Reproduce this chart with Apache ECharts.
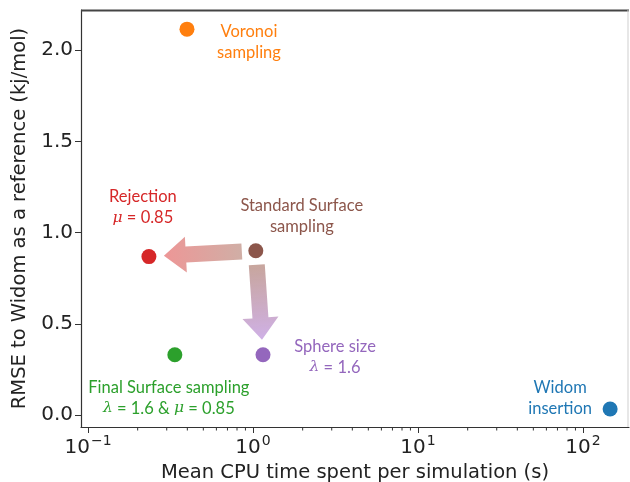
<!DOCTYPE html>
<html><head><meta charset="utf-8">
<script src="https://cdn.jsdelivr.net/npm/echarts@6/dist/echarts.min.js"></script>
<style>html,body{margin:0;padding:0;background:#fff}#c{width:630px;height:482px}</style>
</head><body><div id="c"></div>
<script>
// ---- data ----
const names = ['Voronoi', 'Rejection', 'Standard', 'Final', 'Sphere', 'Widom'];
const cpuTime = [0.398, 0.234, 1.04, 0.336, 1.15, 146];
const rmse = [2.115, 0.868, 0.90, 0.33, 0.33, 0.033];
const labelLines = [
  ['Voronoi', 'sampling'],
  ['Rejection', '{i|μ} = 0.85'],
  ['Standard Surface', 'sampling'],
  ['Final Surface sampling', '{i|λ} = 1.6 & {i|μ} = 0.85'],
  ['Sphere size', '{i|λ} = 1.6'],
  ['Widom', 'insertion']
];
const colors = ['#ff7f0e', '#d62728', '#8c564b', '#2ca02c', '#9467bd', '#1f77b4'];
// arrows: from index -> to index
const arrows = [[2, 1], [2, 4]];
const xTicks = [0.1, 1, 10, 100];
const xMinorTicks = [0.2,0.3,0.4,0.5,0.6,0.7,0.8,0.9,2,3,4,5,6,7,8,9,20,30,40,50,60,70,80,90];
const yTicks = [0, 0.5, 1.0, 1.5, 2.0];

// ---- presentation ----
const labelOffsets = [[62, 13], [-6, -49], [46, -35], [-6, 43], [72, 2], [-50, -11]];
const arrowColors = [['rgba(200,160,150,0.85)', 'rgba(234,132,132,0.85)'], ['rgba(190,150,140,0.85)', 'rgba(202,168,228,0.9)']];

const chart = echarts.init(document.getElementById('c'));
const font = 'DejaVu Sans';
const lblFont = 'Lato, "Open Sans", sans-serif';
const X_MIN = 0.0907, X_MAX = 190, Y_MIN = -0.066, Y_MAX = 2.22;

const pointSeries = names.map((n, i) => ({
  type: 'scatter',
  name: n,
  symbolSize: 15,
  z: 5,
  itemStyle: { color: colors[i], opacity: 1 },
  data: [[cpuTime[i], rmse[i]]],
  label: {
    show: true,
    position: 'inside',
    offset: labelOffsets[i],
    align: 'center',
    formatter: labelLines[i].join('\n'),
    color: colors[i],
    fontFamily: lblFont,
    fontSize: 16.5,
    lineHeight: 21,
    rich: { i: { fontStyle: 'italic', fontFamily: 'DejaVu Serif', fontSize: 15.5, color: colors[i] } }
  }
}));

const arrowSeries = {
  type: 'custom',
  z: 3,
  silent: true,
  data: arrows.map((a, k) => [cpuTime[a[0]], rmse[a[0]], cpuTime[a[1]], rmse[a[1]], k]),
  renderItem: function (params, api) {
    const p1 = api.coord([api.value(0), api.value(1)]);
    const p2 = api.coord([api.value(2), api.value(3)]);
    const k = api.value(4);
    const dx = p2[0] - p1[0], dy = p2[1] - p1[1];
    const L = Math.sqrt(dx * dx + dy * dy);
    const ux = dx / L, uy = dy / L, nx = -uy, ny = ux;
    const startOff = 14, endOff = 15, headLen = 22, shaftW = 8, headW = 18;
    const s = [p1[0] + ux * startOff, p1[1] + uy * startOff];
    const t = [p2[0] - ux * endOff, p2[1] - uy * endOff];
    const b = [t[0] - ux * headLen, t[1] - uy * headLen];
    const pts = [
      [s[0] + nx * shaftW, s[1] + ny * shaftW],
      [b[0] + nx * shaftW, b[1] + ny * shaftW],
      [b[0] + nx * headW, b[1] + ny * headW],
      t,
      [b[0] - nx * headW, b[1] - ny * headW],
      [b[0] - nx * shaftW, b[1] - ny * shaftW],
      [s[0] - nx * shaftW, s[1] - ny * shaftW]
    ];
    return {
      type: 'polygon',
      shape: { points: pts },
      style: {
        fill: {
          type: 'linear', global: true,
          x: s[0], y: s[1], x2: t[0], y2: t[1],
          colorStops: [{ offset: 0, color: arrowColors[k][0] }, { offset: 1, color: arrowColors[k][1] }]
        }
      }
    };
  }
};

const minorTickSeries = {
  type: 'custom',
  silent: true,
  clip: false,
  z: 10,
  data: xMinorTicks.map(v => [v]),
  renderItem: function (params, api) {
    const p = api.coord([api.value(0), Y_MIN]);
    return { type: 'line', shape: { x1: p[0], y1: p[1], x2: p[0], y2: p[1] + 3.5 }, style: { stroke: '#333', lineWidth: 1 } };
  }
};

function isPow10(v) { const l = Math.log10(v); return Math.abs(l - Math.round(l)) < 1e-6; }
const supMap = { '-1': '−1', '0': '0', '1': '1', '2': '2' };
const axisLineStyle = { color: '#333', width: 1.2 };

chart.setOption({
  animation: false,
  grid: { left: 81, right: 1, top: 10, bottom: 55, outerBoundsMode: 'none', containLabel: false },
  xAxis: {
    type: 'log', logBase: 10, min: X_MIN, max: X_MAX,
    axisLine: { show: true, onZero: false, lineStyle: axisLineStyle },
    axisTick: { show: true, length: 6, lineStyle: { color: '#333' }, customValues: xTicks },
    splitLine: { show: false },
    axisLabel: {
      color: '#222', fontFamily: font, fontSize: 20, margin: 7,
      customValues: xTicks,
      formatter: function (v) {
        if (!isPow10(v)) return '';
        const e = Math.round(Math.log10(v));
        return '{b|10}{s|' + supMap[String(e)] + '}';
      },
      rich: { b: { fontFamily: font, fontSize: 20, color: '#222', verticalAlign: 'bottom' }, s: { fontFamily: font, fontSize: 14, color: '#222', verticalAlign: 'top', padding: [0, 0, 10, 1] } }
    },
    name: 'Mean CPU time spent per simulation (s)',
    nameLocation: 'middle', nameGap: 33,
    nameTextStyle: { fontFamily: font, fontSize: 19.5, color: '#222', verticalAlign: 'top' }
  },
  yAxis: {
    type: 'value', min: Y_MIN, max: Y_MAX, splitNumber: 5,
    axisLine: { show: true, onZero: false, lineStyle: axisLineStyle },
    axisTick: { show: true, length: 6, lineStyle: { color: '#333' }, customValues: yTicks },
    splitLine: { show: false },
    axisLabel: {
      color: '#222', fontFamily: font, fontSize: 20, margin: 8,
      customValues: yTicks,
      formatter: function (v) {
        for (const t of yTicks) if (Math.abs(v - t) < 1e-6) return t.toFixed(1);
        return '';
      }
    },
    name: 'RMSE to Widom as a reference (kj/mol)',
    nameLocation: 'middle', nameGap: 49,
    nameTextStyle: { fontFamily: font, fontSize: 19.5, color: '#222' }
  },
  series: [arrowSeries, minorTickSeries].concat(pointSeries)
});

// frame (top and right spines) placed from the axis extents via the chart's own scales
const tl = chart.convertToPixel({ gridIndex: 0 }, [X_MIN, Y_MAX]);
const br = chart.convertToPixel({ gridIndex: 0 }, [X_MAX, Y_MIN]);
chart.setOption({
  graphic: [
    { type: 'line', z: 100, shape: { x1: tl[0], y1: tl[1] + 0.5, x2: br[0], y2: tl[1] + 0.5 }, style: { stroke: '#444', lineWidth: 1.8 } },
    { type: 'line', z: 100, shape: { x1: br[0] - 1, y1: tl[1], x2: br[0] - 1, y2: br[1] }, style: { stroke: '#cfcfcf', lineWidth: 1 } }
  ]
});
</script></body></html>
